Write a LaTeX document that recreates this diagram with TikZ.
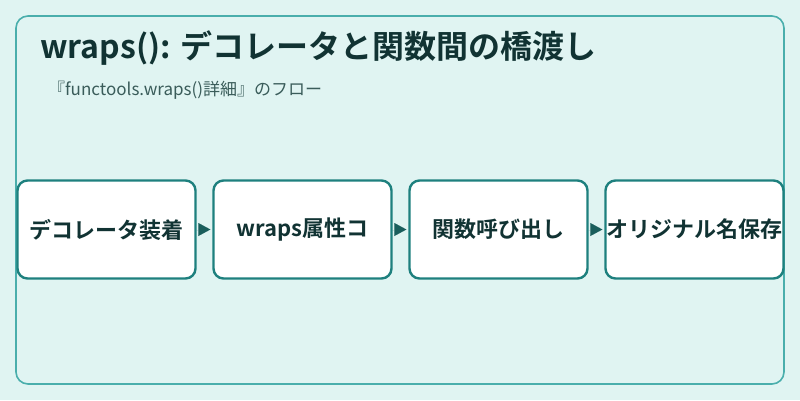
\documentclass[tikz,border=0pt]{standalone}
\usepackage{fontspec}
\setmainfont{Noto Sans CJK JP}
\newfontfamily\jpb{Noto Sans CJK JP Bold}
\definecolor{bg}{HTML}{E0F4F2}
\definecolor{frame}{HTML}{4AAEAC}
\definecolor{boxline}{HTML}{1E807E}
\definecolor{titlec}{HTML}{113333}
\definecolor{subc}{HTML}{3A5C5A}
\definecolor{arrowc}{HTML}{1A5E5C}
\usetikzlibrary{arrows.meta}
\tikzset{
  stepbox/.style={draw=boxline, line width=2.4pt, fill=white, rounded corners=10pt,
    minimum width=178pt, minimum height=98pt, inner sep=0pt,
    font=\jpb\fontsize{22}{26}\selectfont, text=titlec},
  conn/.style={-{Triangle[length=12pt,width=13pt]}, draw=arrowc, line width=0.01pt, color=arrowc, shorten >=2pt}
}
\begin{document}
\begin{tikzpicture}[x=1pt,y=-1pt]
\fill[bg] (0,0) rectangle (800,400);
\useasboundingbox (0,0) rectangle (800,400);
\draw[frame, line width=1.6pt, rounded corners=12pt] (16,16) rectangle (784,384);
\node[anchor=base west, inner sep=0pt, text=titlec, font=\jpb\fontsize{32}{36}\selectfont] (title) at (40,58) {wraps(): デコレータと関数間の橋渡し};
\node[anchor=base west, inner sep=0pt, text=subc, font=\fontsize{17}{20}\selectfont] (sub) at (48,95) {『functools.wraps()詳細』のフロー};
\node[stepbox] (b1) at (106.5,229.5) {デコレータ装着};
\node[stepbox] (b2) at (302.5,229.5) {wraps属性コ};
\node[stepbox] (b3) at (498.5,229.5) {関数呼び出し};
\node[stepbox] (b4) at (694.5,229.5) {オリジナル名保存};
\draw[conn] (b1) -- (b2);
\draw[conn] (b2) -- (b3);
\draw[conn] (b3) -- (b4);
\end{tikzpicture}
\end{document}
